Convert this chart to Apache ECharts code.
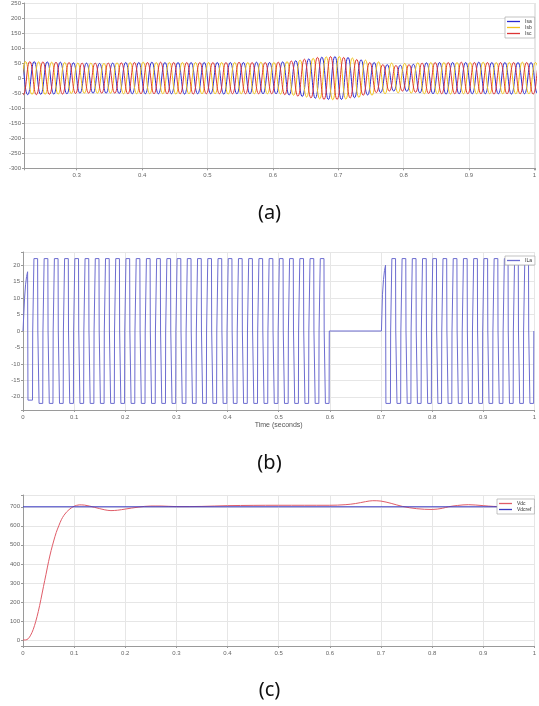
<!DOCTYPE html>
<html><head><meta charset="utf-8">
<script src="https://cdn.jsdelivr.net/npm/echarts@6/dist/echarts.min.js"></script>
<style>html,body{margin:0;padding:0;background:#fff}#c{width:539px;height:706px}</style>
</head><body><div id="c"></div>
<script>
// ---------- Panel (a): source currents, value at each half-cycle extremum ----------
const aNames = ['Isa', 'Isb', 'Isc'];
const aColors = ['#2a2acf', '#f0c21c', '#dc3535'];
const aStartTimes = [0.205, 0.2017, 0.2083];   // time of first extremum (s)
const aHalfPeriod = 0.01;                        // 50 Hz
const isaExtrema = [-55, 55, -55, 55, -54, 54, -53, 53, -52, 51,
  -50, 50, -50, 49, -50, 50, -51, 52, -52, 52,
  -52, 53, -52, 52, -52, 52, -53, 52, -52, 52,
  -52, 52, -53, 52, -52, 52, -52, 53, -52, 52,
  -52, 54, -56, 58, -61, 64, -67, 70, -71, 72,
  -71, 69, -65, 61, -56, 52, -48, 45, -43, 43,
  -44, 46, -49, 51, -52, 52, -53, 52, -52, 52,
  -52, 53, -52, 52, -52, 52, -53, 52, -52, 52,
  -52, 52];
const isbExtrema = [55, -55, 55, -54, 54, -54, 53, -53, 52, -51,
  50, -50, 50, -50, 49, -50, 51, -52, 52, -52,
  53, -52, 52, -52, 52, -53, 52, -52, 52, -52,
  52, -52, 52, -53, 52, -52, 52, -52, 53, -52,
  52, -53, 55, -57, 60, -63, 66, -69, 71, -72,
  72, -70, 67, -64, 60, -57, 54, -52, 50, -49,
  49, -50, 51, -52, 52, -52, 52, -53, 52, -52,
  52, -52, 53, -52, 52, -52, 52, -52, 53, -52,
  52, -52];
const iscExtrema = [55, -55, 55, -55, 54, -54, 53, -53, 52, -51,
  50, -50, 50, -50, 50, -50, 51, -52, 52, -52,
  52, -52, 53, -52, 52, -52, 52, -53, 52, -52,
  52, -52, 52, -52, 53, -52, 52, -52, 52, -52,
  53, -55, 57, -60, 63, -66, 69, -71, 72, -71,
  69, -66, 62, -57, 52, -48, 45, -43, 42, -43,
  45, -47, 50, -51, 52, -52, 52, -52, 53, -52,
  52, -52, 52, -53, 52, -52, 52, -52, 52, -53,
  52, -52];
const aExtrema = [isaExtrema, isbExtrema, iscExtrema];

// ---------- Panel (b): inverter current, level of each half cycle ----------
const ilaName = 'ILa';
const ilaColor = '#6d6dd0';
const ilaFirstEdge = 0.001, ilaHalfPeriod = 0.01, ilaOnTime = 0.008, ilaEdge = 0.0004;
const ilaHalfCycleLevels = [18, -21, 22, -22, 22, -22, 22, -22, 22, -22,
  22, -22, 22, -22, 22, -22, 22, -22, 22, -22,
  22, -22, 22, -22, 22, -22, 22, -22, 22, -22,
  22, -22, 22, -22, 22, -22, 22, -22, 22, -22,
  22, -22, 22, -22, 22, -22, 22, -22, 22, -22,
  22, -22, 22, -22, 22, -22, 22, -22, 22, -22,
  0, 0, 0, 0, 0, 0, 0, 0, 0, 0,
  20, -22, 22, -22, 22, -22, 22, -22, 22, -22,
  22, -22, 22, -22, 22, -22, 22, -22, 22, -22,
  22, -22, 22, -22, 22, -22, 22, -22, 22, -22];
const ilaRampHalfCycles = [0, 70];
const ilaRampProfile = [0, 0.55, 0.78, 0.92, 1];

// ---------- Panel (c): DC link voltage ----------
const cNames = ['Vdc', 'Vdcref'];
const cColors = ['#e05c68', '#3b3bc2'];
const vdcTime = [0, 0.005, 0.01, 0.015, 0.02, 0.025, 0.03, 0.035, 0.04, 0.045,
  0.05, 0.055, 0.06, 0.065, 0.07, 0.075, 0.08, 0.085, 0.09, 0.095,
  0.1, 0.11, 0.12, 0.14, 0.16, 0.172, 0.185, 0.2, 0.225, 0.25,
  0.27, 0.3, 0.35, 0.4, 0.5, 0.6, 0.63, 0.65, 0.67, 0.684,
  0.7, 0.72, 0.742, 0.77, 0.8, 0.82, 0.832, 0.85, 0.871, 0.9,
  0.92, 0.95, 1.0];
const vdcValues = [0, 0, 6, 25, 55, 98, 150, 213, 280, 345,
  412, 470, 520, 565, 600, 632, 655, 672, 685, 695,
  703, 710, 709, 697, 684, 680, 682, 688, 698, 704,
  704, 701, 702, 706, 708, 708, 711, 717, 727, 732,
  730, 718, 702, 690, 686, 692, 700, 707, 711, 706,
  702, 700, 700];
const vdcRefTime = [0, 1];
const vdcRefValues = [700, 700];

const panelLabels = ['(a)', '(b)', '(c)'];
const xAxisTitleB = 'Time (seconds)';

// ---------- build data ----------
const aData = aExtrema.map((arr, s) => arr.map((v, i) => [aStartTimes[s] + aHalfPeriod * i, v]));

const ilaData = [[0, 0]];
let afterRamp = false;
ilaHalfCycleLevels.forEach((L, n) => {
  const s = ilaFirstEdge + n * ilaHalfPeriod;
  if (ilaRampHalfCycles.includes(n)) {
    ilaRampProfile.forEach((f, j) => ilaData.push([s + ilaOnTime * j / (ilaRampProfile.length - 1), L * f]));
    afterRamp = true; return;
  }
  if (L === 0) { afterRamp = false; return; }
  if (afterRamp) ilaData.push([s - 0.0013, L]);
  else ilaData.push([s, 0], [s + ilaEdge, L]);
  ilaData.push([s + ilaOnTime - ilaEdge, L], [s + ilaOnTime, 0]);
  afterRamp = false;
});
ilaData.push([1, 0]);

const vdcData = vdcTime.map((t, i) => [t, vdcValues[i]]);
const vdcRefData = vdcRefTime.map((t, i) => [t, vdcRefValues[i]]);

// ---------- styles ----------
const gridLine = { show: true, lineStyle: { color: '#e6e6e6', width: 1 } };
const axLine = { show: true, onZero: false, lineStyle: { color: '#9a9a9a', width: 1 } };
const axTick = { show: true, length: 2, lineStyle: { color: '#9a9a9a' } };
const lbl = (extra) => Object.assign({ fontSize: 6, color: '#666', margin: 3, fontFamily: 'Liberation Sans' }, extra || {});
const onMultiple = (step, dec) => (v) => {
  const r = Math.round(v / step);
  return Math.abs(v / step - r) < 1e-6 ? String(+(r * step).toFixed(dec)) : '';
};
const legendItems = (names, colors) => names.map((n, i) => ({
  name: n, icon: 'path://M0,0H20V2H0Z',
  itemStyle: { color: colors[i], borderWidth: 0, opacity: 1 },
  lineStyle: { color: colors[i], width: 1 }
}));
const legendBase = {
  orient: 'vertical', itemWidth: 13, itemHeight: 1.3, itemGap: 1,
  padding: [2, 3, 2, 2], backgroundColor: '#fff', borderColor: '#aaa', borderWidth: 0.7,
  textStyle: { fontSize: 5, color: '#333', fontFamily: 'Liberation Sans' },
  selectedMode: false
};

const chart = echarts.init(document.getElementById('c'), null, { renderer: 'canvas' });
chart.setOption({
  animation: false,
  backgroundColor: '#fff',
  grid: [
    { left: 24, top: -2.5, width: 515, height: 170.8 },
    { left: 23, top: 252, width: 516, height: 158 },
    { left: 23, top: 495, width: 516, height: 151 }
  ],
  xAxis: [
    { type: 'value', gridIndex: 0, min: 0.2194, max: 1.0018, minInterval: 0.1, maxInterval: 0.1,
      axisLine: axLine, axisTick: axTick, splitLine: gridLine,
      axisLabel: lbl({ formatter: onMultiple(0.1, 1), margin: 4 }) },
    { type: 'value', gridIndex: 1, min: 0, max: 1, interval: 0.1,
      axisLine: axLine, axisTick: axTick, splitLine: gridLine,
      axisLabel: lbl({ formatter: onMultiple(0.1, 1), margin: 4 }),
      name: xAxisTitleB, nameLocation: 'middle', nameGap: 12,
      nameTextStyle: { fontSize: 7, color: '#555', fontFamily: 'Liberation Sans' } },
    { type: 'value', gridIndex: 2, min: 0, max: 1, interval: 0.1,
      axisLine: axLine, axisTick: axTick, splitLine: gridLine,
      axisLabel: lbl({ formatter: onMultiple(0.1, 1), margin: 4 }) }
  ],
  yAxis: [
    { type: 'value', gridIndex: 0, min: -300, max: 250, interval: 50,
      axisLine: axLine, axisTick: axTick, splitLine: gridLine, axisLabel: lbl() },
    { type: 'value', gridIndex: 1, min: -24, max: 24, minInterval: 5, maxInterval: 5,
      axisLine: axLine, axisTick: axTick, splitLine: gridLine,
      axisLabel: lbl({ formatter: onMultiple(5, 0) }) },
    { type: 'value', gridIndex: 2, min: -32, max: 762, minInterval: 100, maxInterval: 100,
      axisLine: axLine, axisTick: axTick, splitLine: gridLine,
      axisLabel: lbl({ formatter: onMultiple(100, 0) }) }
  ],
  legend: [
    Object.assign({}, legendBase, { data: legendItems(aNames, aColors), left: 505, top: 17 }),
    Object.assign({}, legendBase, { data: legendItems([ilaName], [ilaColor]), left: 505, top: 256 }),
    Object.assign({}, legendBase, { data: legendItems(cNames, cColors), left: 497, top: 499 })
  ],
  graphic: panelLabels.map((t, i) => ({
    type: 'text', left: 'center', top: [203, 453, 680][i],
    style: { text: t, fontSize: 20, fill: '#111', fontFamily: 'Noto Sans' }
  })),
  series: [
    ...aNames.map((n, s) => ({
      name: n, type: 'line', xAxisIndex: 0, yAxisIndex: 0, data: aData[s],
      smooth: true, symbol: 'none', color: aColors[s], lineStyle: { width: 1, color: aColors[s] }
    })),
    { name: ilaName, type: 'line', xAxisIndex: 1, yAxisIndex: 1, data: ilaData,
      symbol: 'none', color: ilaColor, lineStyle: { width: 1, color: ilaColor } },
    { name: cNames[0], type: 'line', xAxisIndex: 2, yAxisIndex: 2, data: vdcData, smooth: 0.35,
      symbol: 'none', color: cColors[0], lineStyle: { width: 1, color: cColors[0] } },
    { name: cNames[1], type: 'line', xAxisIndex: 2, yAxisIndex: 2, data: vdcRefData,
      symbol: 'none', color: cColors[1], lineStyle: { width: 1, color: cColors[1] } }
  ]
});
</script></body></html>
